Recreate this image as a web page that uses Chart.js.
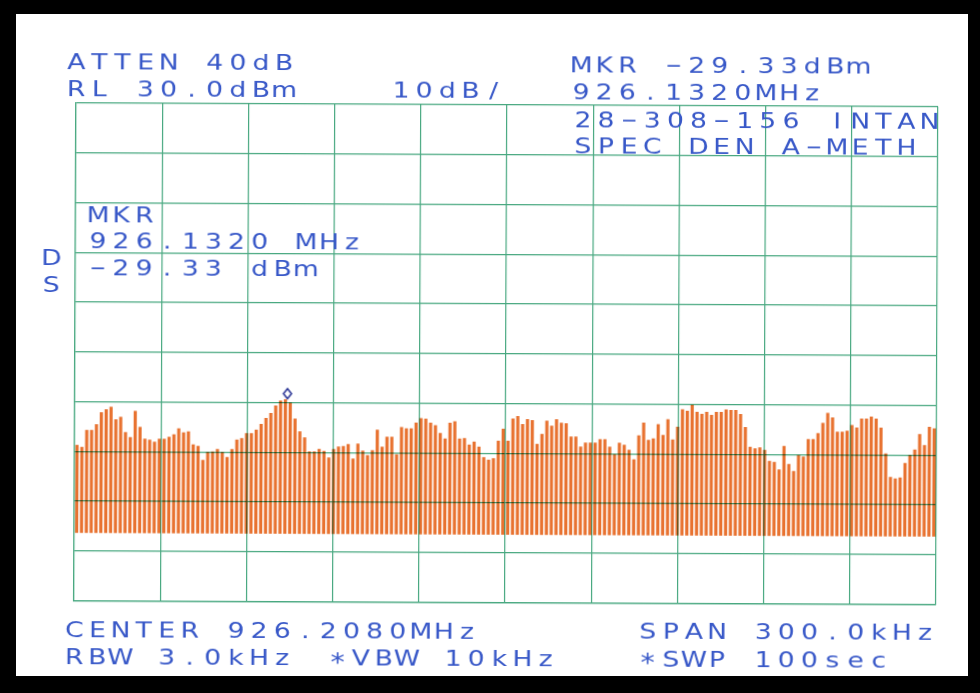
<!DOCTYPE html>
<html>
<head>
<meta charset="utf-8">
<script src="https://cdn.jsdelivr.net/npm/chart.js@4.4.1/dist/chart.umd.min.js"></script>
<style>
  html, body { margin: 0; padding: 0; background: #000; width: 980px; height: 693px; overflow: hidden; }
  #paper { position: absolute; left: 16px; top: 14px; width: 952px; height: 662px; background: #fff; }
  #plot { position: absolute; left: 0; top: 0; transform: rotate(0.25deg); transform-origin: 506px 354px; }
</style>
</head>
<body>
<div id="paper"></div>
<canvas id="plot" width="980" height="693"></canvas>
<script>
// Analyzer settings
const CENTER_MHZ = 926.208;
const SPAN_MHZ = 0.300;
const REF_LEVEL = 30;      // dBm at the top graticule line
const DB_PER_DIV = 10;
const DIVISIONS = 10;
const MARKER_MHZ = 926.132;
const MARKER_DBM = -29.33;
const NOISE_FLOOR = -56.4; // dBm between the comb lines

// Peak level of each comb line across the span, dBm, low to high frequency
const peaks = [
  -38.7, -39.1, -35.7, -35.7, -34.5, -32.1, -31.5, -31.0, -33.5, -33.0,
  -36.1, -37.1, -31.8, -35.0, -37.4, -37.6, -38.0, -37.4, -37.4, -37.0,
  -36.5, -35.3, -36.1, -35.9, -38.5, -38.8, -41.6, -40.0, -39.9, -39.4,
  -40.0, -41.0, -39.4, -37.5, -37.2, -36.2, -36.2, -35.5, -34.3, -33.1,
  -32.1, -30.6, -29.6, -29.33, -30.0, -33.2, -35.8, -37.0, -39.8, -39.8,
  -39.3, -39.7, -41.0, -39.3, -38.8, -38.7, -38.3, -41.2, -38.2, -39.6,
  -40.5, -39.5, -35.4, -38.8, -36.8, -36.8, -40.3, -34.8, -35.1, -35.1,
  -33.9, -33.0, -33.1, -33.9, -34.4, -36.0, -37.1, -33.9, -33.6, -37.1,
  -37.0, -38.3, -37.7, -38.7, -40.8, -41.3, -41.0, -37.5, -35.1, -37.5,
  -33.0, -32.5, -34.1, -33.1, -33.3, -38.1, -36.1, -33.4, -34.4, -33.1,
  -33.8, -33.9, -36.6, -36.6, -38.6, -37.8, -37.8, -37.8, -37.1, -37.1,
  -38.6, -40.1, -37.8, -38.2, -39.2, -41.1, -36.3, -33.7, -37.2, -36.9,
  -34.0, -36.2, -33.0, -37.1, -34.5, -31.0, -31.3, -30.1, -31.5, -31.9,
  -31.5, -32.1, -31.5, -31.5, -31.0, -31.1, -31.1, -31.9, -34.5, -38.5,
  -38.8, -38.6, -39.1, -41.3, -41.5, -43.0, -38.3, -41.9, -43.3, -40.1,
  -40.4, -36.9, -36.9, -35.7, -33.6, -31.6, -32.5, -35.4, -35.4, -35.2,
  -34.0, -34.5, -32.7, -32.7, -32.3, -32.7, -34.5, -39.7, -44.4, -44.7,
  -44.5, -41.6, -40.0, -38.9, -35.8, -38.0, -34.3, -34.6
];

// Annotation text printed around the graticule
const headerLeft  = ['ATTEN 40dB', 'RL 30.0dBm'];
const scaleText   = ['10dB/'];
const headerRight = ['MKR -29.33dBm', '926.1320MHz'];
const titleLines  = ['28-308-156 INTAN', 'SPEC DEN A-METH'];
const markerLines = ['MKR', '926.1320 MHz', '-29.33 dBm'];
const detector    = ['D', 'S'];
const footerLeft  = ['CENTER 926.2080MHz', 'RBW 3.0kHz'];
const footerMid   = ['*VBW 10kHz'];
const footerRight = ['SPAN 300.0kHz', '*SWP 100sec'];

const START_MHZ = CENTER_MHZ - SPAN_MHZ / 2;
const STOP_MHZ  = CENTER_MHZ + SPAN_MHZ / 2;

// frequency of each comb line (one sweep bin each)
const lineFreqs = peaks.map((_, i) => (START_MHZ + SPAN_MHZ * (i + 0.5) / peaks.length).toFixed(4));

const GRID = 'rgb(72,168,128)';
const INK  = '#3858c8';
const PEN  = 'rgb(232,114,48)';

// diamond marker glyph, sitting just above the marked point
function diamondGlyph() {
  const c = document.createElement('canvas');
  c.width = 12; c.height = 24;
  const g = c.getContext('2d');
  g.strokeStyle = '#2b3596';
  g.lineWidth = 1.6;
  g.beginPath();
  g.moveTo(6, 1.5); g.lineTo(10, 6.5); g.lineTo(6, 11.5); g.lineTo(2, 6.5); g.closePath();
  g.stroke();
  return c;
}

// plotter style lettering: fixed character cells
function plotterText(ctx, text, x, y) {
  const ADV = 23.1;
  for (let i = 0; i < text.length; i++) {
    const ch = text[i];
    if (ch === ' ') continue;
    ctx.save();
    ctx.translate(x + i * ADV + 8, y);
    if (ch === '-') {
      ctx.scale(2.3, 1);
      ctx.fillText(ch, 0, -1);
    } else if (ch === '*') {
      ctx.scale(1.4, 1.2);
      ctx.fillText(ch, 0, 4);
    } else {
      ctx.scale(1.3, 1);
      ctx.fillText(ch, 0, 0);
    }
    ctx.restore();
  }
}

const annotations = {
  id: 'annotations',
  afterDraw(chart) {
    const ctx = chart.ctx;
    ctx.save();
    ctx.fillStyle = INK;
    ctx.font = '20.5px "DejaVu Sans"';
    ctx.textAlign = 'center';
    ctx.textBaseline = 'alphabetic';
    const block = (lines, x, y0, lh) => lines.forEach((t, k) => plotterText(ctx, t, x, y0 + k * lh));
    block(headerLeft, 67, 70.5, 27);
    block(scaleText, 392, 97.5, 27);
    block(headerRight, 572, 72, 27);
    block(titleLines, 574, 126.5, 26);
    block(markerLines, 89.5, 223.5, 26.5);
    block(detector, 43, 267, 27);
    block(footerLeft, 67.5, 638.5, 27.5);
    block(footerMid, 331, 666, 27);
    block(footerRight, 641, 638, 27.5);
    ctx.restore();
  }
};

// pen ink darkens where the trace crosses the graticule
const penInk = {
  id: 'penInk',
  beforeDatasetsDraw(chart) { chart.ctx.save(); chart.ctx.globalCompositeOperation = 'multiply'; },
  afterDatasetsDraw(chart) { chart.ctx.restore(); }
};

new Chart(document.getElementById('plot'), {
  type: 'bar',
  data: {
    labels: lineFreqs,
    datasets: [
      {
        type: 'scatter',
        data: [{ x: MARKER_MHZ, y: MARKER_DBM }],
        xAxisID: 'x',
        yAxisID: 'y',
        pointStyle: diamondGlyph(),
        pointRadius: 6,
        order: 0
      },
      {
        data: peaks.map(p => [NOISE_FLOOR, p]),
        xAxisID: 'xc',
        yAxisID: 'y',
        backgroundColor: PEN,
        borderWidth: 0,
        grouped: false,
        barPercentage: 0.66,
        categoryPercentage: 1,
        order: 1
      }
    ]
  },
  options: {
    responsive: false,
    devicePixelRatio: 1,
    animation: false,
    events: [],
    layout: { padding: { left: 75, top: 105, right: 43, bottom: 90.5 } },
    plugins: { legend: { display: false }, tooltip: { enabled: false }, title: { display: false } },
    scales: {
      xc: { type: 'category', display: false, offset: true },
      x: {
        type: 'linear',
        position: 'bottom',
        offset: false,
        min: START_MHZ,
        max: STOP_MHZ,
        afterBuildTicks(axis) {
          const t = [];
          for (let k = 0; k <= DIVISIONS; k++) t.push({ value: START_MHZ + SPAN_MHZ * k / DIVISIONS });
          axis.ticks = t;
        },
        ticks: { display: false },
        grid: { color: GRID, lineWidth: 1.2, drawTicks: false, offset: false },
        border: { color: GRID, width: 1.2 }
      },
      y: {
        min: REF_LEVEL - DB_PER_DIV * DIVISIONS,
        max: REF_LEVEL,
        ticks: { display: false, stepSize: DB_PER_DIV },
        grid: { color: GRID, lineWidth: 1.2, drawTicks: false },
        border: { color: GRID, width: 1.2 }
      }
    }
  },
  plugins: [penInk, annotations]
});
</script>
</body>
</html>
